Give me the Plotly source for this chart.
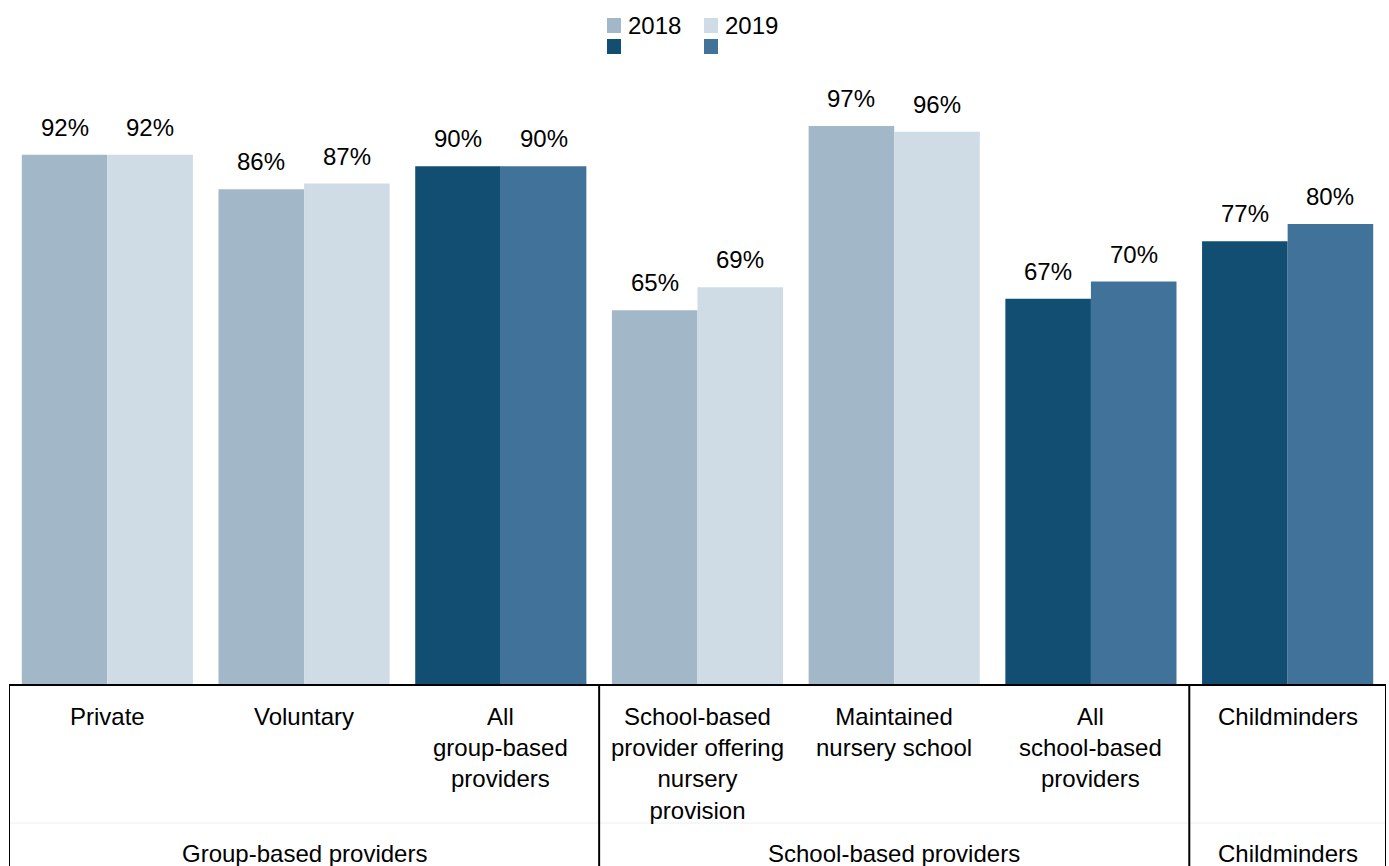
import plotly.graph_objects as go

# Provider types, grouped under a parent heading
categories = [
    "Private",
    "Voluntary",
    "All<br>group-based<br>providers",
    "School-based<br>provider offering<br>nursery<br>provision",
    "Maintained<br>nursery school",
    "All<br>school-based<br>providers",
    "Childminders",
]
groups = ["Group-based providers", "School-based providers", "Childminders"]
group_spans = [(0, 2), (3, 5), (6, 6)]

values_2018 = [92, 86, 90, 65, 97, 67, 77]
values_2019 = [92, 87, 90, 69, 96, 70, 80]
is_total = [False, False, True, False, False, True, True]
years = ["2018", "2019"]

LIGHT = {"2018": "#A2B7C7", "2019": "#D0DCE5"}
DARK = {"2018": "#124E72", "2019": "#41739A"}
FONT = "Liberation Sans, Arial, sans-serif"
FS = 24
BARGAP = 0.13

W, H = 1389, 866
ML, MR, MT, MB = 9, 3, 51, 181
PW, PH = W - ML - MR, H - MT - MB

def px_x(px):
    return (px - ML) / PW

def px_y(py):
    return (H - MB - py) / PH

x = list(range(len(categories)))
fig = go.Figure()
shapes = []
annotations = []

half = (1 - BARGAP) / 4  # offset from category centre to each bar centre
for k, (year, vals) in enumerate(zip(years, [values_2018, values_2019])):
    colors = [DARK[year] if t else LIGHT[year] for t in is_total]
    fig.add_trace(go.Bar(
        x=x, y=vals, name=year, marker=dict(color=colors, line=dict(width=0)),
        showlegend=False, hoverinfo="x+y",
    ))
    # value labels above each bar
    for i, v in enumerate(vals):
        annotations.append(dict(x=i + (2 * k - 1) * half, y=v, xref="x", yref="y",
                                text=f"{v}%", showarrow=False, xanchor="center", yanchor="bottom",
                                yshift=12, font=dict(size=FS, color="black", family=FONT)))

# table frame below the bars
line = dict(color="black", width=2)
shapes.append(dict(type="line", xref="x", yref="paper", x0=-0.5, x1=6.5, y0=0, y1=0, line=line))
for xb in [-0.5, 2.5, 5.5, 6.5]:
    shapes.append(dict(type="line", xref="x", yref="paper", x0=xb, x1=xb, y0=0, y1=-0.35, line=line))
shapes.append(dict(type="line", xref="x", yref="paper", x0=-0.5, x1=6.5,
                   y0=px_y(823), y1=px_y(823), line=dict(color="#EEEEEE", width=1), layer="below"))

for i, c in enumerate(categories):
    annotations.append(dict(x=i, y=px_y(701), xref="x", yref="paper", text=c, showarrow=False,
                            xanchor="center", yanchor="top",
                            font=dict(size=FS, color="black", family=FONT)))
for g, (a, b) in zip(groups, group_spans):
    annotations.append(dict(x=(a + b) / 2, y=px_y(853), xref="x", yref="paper", text=g, showarrow=False,
                            xanchor="center", yanchor="middle",
                            font=dict(size=FS, color="black", family=FONT)))

# legend: light swatches with year labels, dark swatches beneath
for year, sx in zip(years, [607, 704]):
    for pal, sy in [(LIGHT, 18), (DARK, 39)]:
        shapes.append(dict(type="rect", xref="paper", yref="paper",
                           x0=px_x(sx), x1=px_x(sx + 14), y0=px_y(sy), y1=px_y(sy + 15),
                           fillcolor=pal[year], line=dict(width=0)))
    annotations.append(dict(x=px_x(sx + 19), y=px_y(25), xref="paper", yref="paper", text=year,
                            showarrow=False, xanchor="left", yanchor="middle",
                            font=dict(size=FS, color="black", family=FONT)))

fig.update_layout(
    width=W, height=H,
    margin=dict(l=ML, r=MR, t=MT, b=MB),
    barmode="group", bargap=BARGAP, bargroupgap=0,
    plot_bgcolor="white", paper_bgcolor="white",
    xaxis=dict(range=[-0.5, 6.5], showticklabels=False, showgrid=False, zeroline=False, ticks=""),
    yaxis=dict(range=[0, 110], visible=False),
    shapes=shapes, annotations=annotations,
    font=dict(family=FONT, size=FS, color="black"),
)

fig.write_html("out.html")
